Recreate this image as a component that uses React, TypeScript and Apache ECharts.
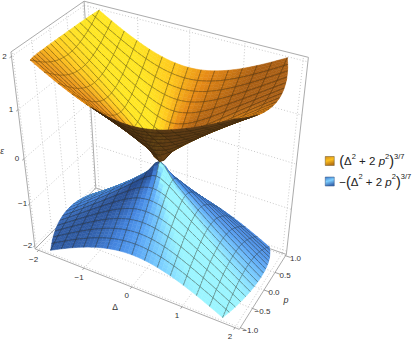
import React, { useEffect, useRef } from "react";
import * as echarts from "echarts";

const deltaValues = [-2, -1.75, -1.5, -1.25, -1, -0.75, -0.5, -0.25, 0, 0.25, 0.5, 0.75, 1, 1.25, 1.5, 1.75, 2];
const pValues = [-1, -0.875, -0.75, -0.625, -0.5, -0.375, -0.25, -0.125, 0, 0.125, 0.25, 0.375, 0.5, 0.625, 0.75, 0.875, 1];

// Surface height for |p| (rows: 0, .125 ... 1) and |delta| (columns: 0, .25 ... 2)
const energyRows = [
  [0, 0.3047, 0.552, 0.7815, 1, 1.2108, 1.4156, 1.6155, 1.8114],
  [0.2264, 0.3626, 0.5806, 0.7998, 1.0133, 1.2211, 1.4239, 1.6226, 1.8174],
  [0.4102, 0.488, 0.6568, 0.8516, 1.0518, 1.2514, 1.4487, 1.6434, 1.8357],
  [0.5806, 0.6328, 0.7626, 0.9298, 1.112, 1.2998, 1.4888, 1.6775, 1.8651],
  [0.743, 0.7815, 0.884, 1.0263, 1.1898, 1.3638, 1.5428, 1.7237, 1.9051],
  [0.8996, 0.9298, 1.0133, 1.135, 1.2807, 1.4405, 1.6084, 1.7807, 1.9554],
  [1.0518, 1.0765, 1.1463, 1.2514, 1.3814, 1.5276, 1.6842, 1.8474, 2.0143],
  [1.2003, 1.2211, 1.2807, 1.3726, 1.4888, 1.6226, 1.7683, 1.9222, 2.0814],
  [1.3459, 1.3638, 1.4156, 1.4967, 1.6013, 1.7237, 1.8591, 2.0039, 2.1552],
];

const deltaTicks = [-2, -1, 0, 1, 2];
const deltaTickLabels = ["\u22122", "\u22121", "0", "1", "2"];
const pTicks = [-1, -0.5, 0, 0.5, 1];
const pTickLabels = ["\u22121.0", "\u22120.5", "0.0", "0.5", "1.0"];
const zTicks = [-2, -1, 0, 1, 2];
const zTickLabels = ["\u22122", "\u22121", "0", "1", "2"];
const seriesNames = ["(\u0394\u00b2 + 2 p\u00b2)^(3/7)", "\u2212(\u0394\u00b2 + 2 p\u00b2)^(3/7)"];

// The surfaces stop at a rounded outline: reaches |delta| = 2 at p = 0 and |delta| = 1.75 at |p| = 1
const outlineDelta = 0.25;
const outlineP = 0.2344;
const outline = (q: number[]) => q[0] * q[0] * outlineDelta + q[1] * q[1] * outlineP;

// Camera calibration: box and surface corners (delta, p, z) -> page pixel
const BD = 2.08, BP = 1.04, BZ = 2.08;
const calibration = [
  [-BD, -BP, BZ, 11, 52], [-BD, BP, BZ, 83, 1], [BD, BP, BZ, 309, 57], [BD, BP, -BZ, 287, 255],
  [BD, -BP, -BZ, 240, 329], [-BD, -BP, -BZ, 34, 249], [-BD, BP, -BZ, 97, 187],
  [-1.75, -1, 2, 31, 60], [-1.75, 1, 2, 99, 11], [1.75, 1, 2, 287, 58],
  [-1.75, -1, -2, 51, 251], [1.75, -1, -2, 222, 317], [1.75, 1, -2, 268, 247],
];

function solveCamera(): number[] {
  const n = 11;
  const A: number[][] = Array.from({ length: n }, () => new Array(n + 1).fill(0));
  const add = (r: number[], b: number) => {
    for (let i = 0; i < n; i++) {
      for (let j = 0; j < n; j++) A[i][j] += r[i] * r[j];
      A[i][n] += r[i] * b;
    }
  };
  for (const [X, Y, Z, x, y] of calibration) {
    add([X, Y, Z, 1, 0, 0, 0, 0, -x * X, -x * Y, -x * Z], x);
    add([0, 0, 0, 0, X, Y, Z, 1, -y * X, -y * Y, -y * Z], y);
  }
  for (let c = 0; c < n; c++) {
    let piv = c;
    for (let r = c + 1; r < n; r++) if (Math.abs(A[r][c]) > Math.abs(A[piv][c])) piv = r;
    [A[c], A[piv]] = [A[piv], A[c]];
    for (let r = 0; r < n; r++) {
      if (r === c) continue;
      const f = A[r][c] / A[c][c];
      for (let k = c; k <= n; k++) A[r][k] -= f * A[c][k];
    }
  }
  return A.map((row, i) => row[n] / row[i]);
}
const cam = solveCamera();
type V3 = [number, number, number];
const depth = (v: V3) => cam[8] * v[0] + cam[9] * v[1] + cam[10] * v[2] + 1;
const project = (v: V3): [number, number] => {
  const w = depth(v);
  return [
    (cam[0] * v[0] + cam[1] * v[1] + cam[2] * v[2] + cam[3]) / w,
    (cam[4] * v[0] + cam[5] * v[1] + cam[6] * v[2] + cam[7]) / w,
  ];
};

// Smooth drawing of the table between its grid points
const tableAt = (i: number, j: number): number => {
  if (i < 0) return 2 * tableAt(0, j) - tableAt(-i, j);
  if (i > 16) return 2 * tableAt(16, j) - tableAt(32 - i, j);
  if (j < 0) return 2 * tableAt(i, 0) - tableAt(i, -j);
  if (j > 16) return 2 * tableAt(i, 16) - tableAt(i, 32 - j);
  return energyRows[Math.abs(j - 8)][Math.abs(i - 8)];
};
const cr = (a: number, b: number, c: number, d: number, t: number) =>
  0.5 * (2 * b + (c - a) * t + (2 * a - 5 * b + 4 * c - d) * t * t + (3 * b - a - 3 * c + d) * t * t * t);
const heightAt = (u: number, v: number) => {
  const i = Math.min(15, Math.floor(u));
  const j = Math.min(15, Math.floor(v));
  const s = u - i;
  const t = v - j;
  const row = (jj: number) => cr(tableAt(i - 1, jj), tableAt(i, jj), tableAt(i + 1, jj), tableAt(i + 2, jj), s);
  return cr(row(j - 1), row(j), row(j + 1), row(j + 2), t);
};
const axisAt = (arr: number[], u: number) => {
  const i = Math.min(arr.length - 2, Math.floor(u));
  return arr[i] + (arr[i + 1] - arr[i]) * (u - i);
};
const point = (u: number, v: number): V3 => [axisAt(deltaValues, u), axisAt(pValues, v), heightAt(u, v)];

const SUB = 3;
const mix = (stops: [number, number[]][], s: number) => {
  const x = Math.max(stops[0][0], Math.min(stops[stops.length - 1][0], s));
  for (let i = 0; i < stops.length - 1; i++) {
    if (x <= stops[i + 1][0]) {
      const t = (x - stops[i][0]) / (stops[i + 1][0] - stops[i][0]);
      const c = stops[i][1].map((a, k) => Math.round(a + (stops[i + 1][1][k] - a) * t));
      return `rgb(${c[0]},${c[1]},${c[2]})`;
    }
  }
  return "#000";
};
const topRamp: [number, number[]][] = [
  [0, [170, 95, 20]], [0.35, [230, 138, 22]], [0.7, [255, 200, 30]], [1, [255, 230, 35]],
];
const underRamp: [number, number[]][] = [[0, [45, 28, 12]], [1, [105, 68, 25]]];
const blueRamp: [number, number[]][] = [
  [0, [40, 75, 140]], [0.35, [68, 132, 222]], [0.6, [90, 165, 245]], [0.85, [125, 210, 255]], [1, [155, 245, 255]],
];

const crossing = (a: V3, b: V3): V3 => {
  const fa = outline(a);
  const fb = outline(b);
  const t = (1 - fa) / (fb - fa);
  return [a[0] + (b[0] - a[0]) * t, a[1] + (b[1] - a[1]) * t, a[2] + (b[2] - a[2]) * t];
};
const clipPoly = (pts: V3[]): V3[] => {
  const out: V3[] = [];
  for (let k = 0; k < pts.length; k++) {
    const a = pts[k];
    const b = pts[(k + 1) % pts.length];
    const ain = outline(a) <= 1;
    const bin = outline(b) <= 1;
    if (ain) out.push(a);
    if (ain !== bin) out.push(crossing(a, b));
  }
  return out;
};
const clipSeg = (a: V3, b: V3): [V3, V3] | null => {
  const ain = outline(a) <= 1;
  const bin = outline(b) <= 1;
  if (!ain && !bin) return null;
  if (ain && bin) return [a, b];
  const m = crossing(a, b);
  return ain ? [a, m] : [m, b];
};

const buildCells = (sign: number) => {
  const cells: { d: number; v: number[] }[] = [];
  for (let a = 0; a < 16 * SUB; a++) {
    for (let b = 0; b < 16 * SUB; b++) {
      const c = point((a + 0.5) / SUB, (b + 0.5) / SUB);
      const corners = [point(a / SUB, b / SUB), point((a + 1) / SUB, b / SUB), point((a + 1) / SUB, (b + 1) / SUB), point(a / SUB, (b + 1) / SUB)];
      if (corners.every((q) => outline(q) > 1)) continue;
      cells.push({ d: depth([c[0], c[1], sign * c[2]]), v: [a, b] });
    }
  }
  cells.sort((x, y) => y.d - x.d);
  return cells.map((c) => c.v);
};

const meshStroke = "rgba(35,28,12,0.5)";
const renderSurface = (sign: number) => (_p: any, api: any) => {
  const a = api.value(0);
  const b = api.value(1);
  const u0 = a / SUB, u1 = (a + 1) / SUB, v0 = b / SUB, v1 = (b + 1) / SUB;
  const p00 = point(u0, v0), p10 = point(u1, v0), p11 = point(u1, v1), p01 = point(u0, v1);
  const flip = (q: V3): V3 => [q[0], q[1], sign * q[2]];
  const d1 = [p11[0] - p00[0], p11[1] - p00[1], sign * (p11[2] - p00[2])];
  const d2 = [p01[0] - p10[0], p01[1] - p10[1], sign * (p01[2] - p10[2])];
  let nx = d1[1] * d2[2] - d1[2] * d2[1];
  let ny = d1[2] * d2[0] - d1[0] * d2[2];
  let nz = d1[0] * d2[1] - d1[1] * d2[0];
  const len = Math.hypot(nx, ny, nz) * (nz < 0 ? -1 : 1) || 1;
  nx /= len; ny /= len; nz /= len;
  const s = 0.56 + 0.32 * nx - 1.41 * nx * ny;
  const poly = clipPoly([p00, p10, p11, p01]).map((q) => project(flip(q)));
  let area = 0;
  for (let k = 0; k < poly.length; k++) {
    const n = poly[(k + 1) % poly.length];
    area += poly[k][0] * n[1] - n[0] * poly[k][1];
  }
  const topShade = s - 0.25 * Math.max(0, p00[0] - 0.8);
  const fill = sign < 0 ? mix(blueRamp, s) : area > 0 ? mix(underRamp, s) : mix(topRamp, topShade);
  const children: any[] = [
    { type: "polygon", silent: true, shape: { points: poly }, style: { fill, stroke: fill, lineWidth: 0.5 } },
  ];
  const edge = (q0: V3, q1: V3) => {
    const seg = clipSeg(q0, q1);
    if (!seg) return;
    const s0 = project(flip(seg[0]));
    const s1 = project(flip(seg[1]));
    children.push({
      type: "line", silent: true,
      shape: { x1: s0[0], y1: s0[1], x2: s1[0], y2: s1[1] },
      style: { stroke: meshStroke, lineWidth: 0.7 },
    });
  };
  const su = a % SUB, sv = b % SUB;
  if (su === 0 && a > 0) edge(p00, p01);
  if (su === SUB - 1 && a < 16 * SUB - 1) edge(p10, p11);
  if (sv === 0 && b > 0) edge(p00, p10);
  if (sv === SUB - 1 && b < 16 * SUB - 1) edge(p01, p11);
  return { type: "group", children };
};

// Frame: 0 = dotted grid, 1 = solid edge
const frameSegs: number[][] = [];
const seg = (a: number[], b: number[], kind: number) => frameSegs.push([...a, ...b, kind]);
for (const d of deltaTicks) {
  seg([d, BP, -BZ], [d, BP, BZ], 0);
  seg([d, -BP, -BZ], [d, BP, -BZ], 0);
}
for (const q of pTicks) {
  seg([-BD, q, -BZ], [-BD, q, BZ], 0);
  seg([-BD, q, -BZ], [BD, q, -BZ], 0);
}
for (const z of zTicks) {
  seg([-BD, -BP, z], [-BD, BP, z], 0);
  seg([-BD, BP, z], [BD, BP, z], 0);
}
const corner = (a: number, b: number, c: number) => [a * BD, b * BP, c * BZ];
seg(corner(-1, -1, 1), corner(-1, 1, 1), 1);
seg(corner(-1, 1, 1), corner(1, 1, 1), 1);
seg(corner(1, 1, 1), corner(1, 1, -1), 1);
seg(corner(1, 1, -1), corner(1, -1, -1), 1);
seg(corner(1, -1, -1), corner(-1, -1, -1), 1);
seg(corner(-1, -1, -1), corner(-1, -1, 1), 1);
seg(corner(-1, -1, -1), corner(-1, 1, -1), 1);
seg(corner(-1, 1, -1), corner(-1, 1, 1), 1);
seg(corner(-1, 1, -1), corner(1, 1, -1), 1);

const tickItems: number[][] = [];
deltaTicks.forEach((d, i) => tickItems.push([d, -BP, -BZ, 0, i]));
pTicks.forEach((q, i) => tickItems.push([BD, q, -BZ, 1, i]));
zTicks.forEach((z, i) => tickItems.push([-BD, -BP, z, 2, i]));
const tickText = [deltaTickLabels, pTickLabels, zTickLabels];
const tickOffset = [[-5, 9], [10, 3], [-7, 0]];
const tickDir = [[0, -0.05, 0], [0.1, 0, 0], [0, -0.05, 0]];

const legendRich = {
  t: { fontSize: 11.5, fontFamily: "Liberation Sans", color: "#222", lineHeight: 18 },
  b: { fontSize: 14.5, fontFamily: "Liberation Sans", color: "#222", lineHeight: 18 },
  i: { fontSize: 11.5, fontFamily: "Liberation Sans", fontStyle: "italic", color: "#222", lineHeight: 18 },
  s: { fontSize: 7.5, fontFamily: "Liberation Sans", color: "#222", verticalAlign: "top", lineHeight: 18 },
};
const swatch = (a: string, b: string, c: string) =>
  new echarts.graphic.LinearGradient(0, 0, 0.3, 1, [
    { offset: 0, color: a }, { offset: 0.5, color: b }, { offset: 1, color: c },
  ]);

export default function App() {
  const ref = useRef<HTMLDivElement>(null);
  useEffect(() => {
    const chart = echarts.init(ref.current!, undefined, { renderer: "svg" });
    chart.setOption({
      animation: false,
      backgroundColor: "#fff",
      legend: {
        left: 325, top: 152, padding: 0, orient: "vertical", itemWidth: 9, itemHeight: 9, itemGap: 4,
        selectedMode: false,
        data: [
          { name: seriesNames[0], icon: "rect", itemStyle: { color: swatch("#d08a18", "#fcc020", "#b87414"), borderColor: "#6a5020", borderWidth: 0.5 } },
          { name: seriesNames[1], icon: "rect", itemStyle: { color: swatch("#3f78c8", "#7fd0ff", "#3a6cb4"), borderColor: "#34527f", borderWidth: 0.5 } },
        ],
        formatter: (name: string) =>
          (name.startsWith("\u2212") ? "{t|\u2212}" : "") + "{b|(}{t|\u0394}{s|2}{t| + 2 }{i|p}{s|2}{b|)}{s|3/7}",
        textStyle: { rich: legendRich },
      },
      series: [
        {
          type: "custom", name: "frame", coordinateSystem: "none", silent: true, progressive: 0,
          data: frameSegs,
          renderItem: (_p: any, api: any) => {
            const a = project([api.value(0), api.value(1), api.value(2)]);
            const b = project([api.value(3), api.value(4), api.value(5)]);
            const solid = api.value(6) === 1;
            return {
              type: "line",
              shape: { x1: a[0], y1: a[1], x2: b[0], y2: b[1] },
              style: solid
                ? { stroke: "#a2a2a2", lineWidth: 0.9 }
                : { stroke: "#bdbdbd", lineWidth: 0.8, lineDash: [1, 2] },
            };
          },
        },
        {
          type: "custom", name: seriesNames[1], coordinateSystem: "none", silent: true, progressive: 0,
          data: buildCells(-1), renderItem: renderSurface(-1),
        },
        {
          type: "custom", name: seriesNames[0], coordinateSystem: "none", silent: true, progressive: 0,
          data: buildCells(1), renderItem: renderSurface(1),
        },
        {
          type: "custom", name: "ticks", coordinateSystem: "none", silent: true, progressive: 0,
          data: tickItems,
          renderItem: (_p: any, api: any) => {
            const v: V3 = [api.value(0), api.value(1), api.value(2)];
            const axis = api.value(3);
            const a = project(v);
            const dir = tickDir[axis];
            const b = project([v[0] + dir[0], v[1] + dir[1], v[2] + dir[2]]);
            const off = tickOffset[axis];
            return {
              type: "group",
              children: [
                { type: "line", shape: { x1: a[0], y1: a[1], x2: b[0], y2: b[1] }, style: { stroke: "#777", lineWidth: 0.7 } },
                {
                  type: "text", x: a[0] + off[0], y: a[1] + off[1],
                  style: {
                    text: tickText[axis][api.value(4)], fontSize: 8, fontFamily: "Liberation Sans",
                    fill: "#333", align: "center", verticalAlign: "middle",
                  },
                },
              ],
            };
          },
        },
      ],
      graphic: [
        { type: "text", x: 2, y: 151, style: { text: "\u03b5", fontSize: 8.5, fontStyle: "italic", fontFamily: "Liberation Sans", fill: "#333", align: "center", verticalAlign: "middle" } },
        { type: "text", x: 115, y: 307, style: { text: "\u0394", fontSize: 8.5, fontFamily: "Liberation Sans", fill: "#333", align: "center", verticalAlign: "middle" } },
        { type: "text", x: 286, y: 300, style: { text: "p", fontSize: 9, fontStyle: "italic", fontFamily: "Liberation Sans", fill: "#333", align: "center", verticalAlign: "middle" } },
      ],
    });
    return () => chart.dispose();
  }, []);
  return <div ref={ref} style={{ position: "fixed", left: 0, top: 0, width: 415, height: 342 }} />;
}
